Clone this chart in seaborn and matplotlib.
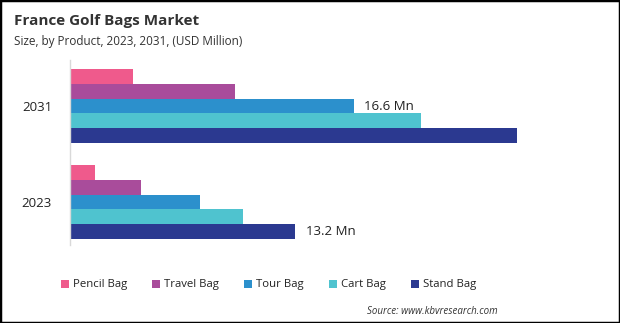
import matplotlib
matplotlib.use("Agg")
import matplotlib.pyplot as plt
import seaborn as sns
import pandas as pd
from matplotlib.patches import Patch, Rectangle

years = ["2031", "2023"]
products = ["Pencil Bag", "Travel Bag", "Tour Bag", "Cart Bag", "Stand Bag"]
values_2031 = [3.67, 9.66, 16.6, 20.55, 26.15]
values_2023 = [1.46, 4.16, 7.61, 10.13, 13.2]
colors = ["#EF5A8C", "#A94C9B", "#2C90CC", "#4FC3CF", "#2B3990"]
labels = {("2031", "Tour Bag"): "16.6 Mn", ("2023", "Stand Bag"): "13.2 Mn"}

rows = []
for y, vals in zip(years, [values_2031, values_2023]):
    for p, v in zip(products, vals):
        rows.append({"Year": y, "Product": p, "Value": v})
df = pd.DataFrame(rows)

sns.set_theme(style="white")
plt.rcParams["font.family"] = ["Open Sans", "DejaVu Sans"]

fig = plt.figure(figsize=(6.2, 3.23), dpi=100)
W, H = 620, 323
ax = fig.add_axes([70 / W, 1 - 245 / H, 520 / W, 185 / H])

sns.barplot(data=df, y="Year", x="Value", hue="Product", order=years,
            hue_order=products, palette=colors, orient="h", width=0.77,
            saturation=1, ax=ax, legend=False, errorbar=None, linewidth=0,
            edgecolor="none")

ax.set_xlim(0, 520 / 17.08)
ax.set_ylim(1 + 43 / 96, -46 / 96)
ax.set_xlabel("")
ax.set_ylabel("")
ax.set_xticks([])
for s in ["top", "right", "bottom"]:
    ax.spines[s].set_visible(False)
ax.spines["left"].set_color("#d9d9d9")
ax.spines["left"].set_linewidth(1)
ax.tick_params(axis="y", length=0, labelsize=9.5, pad=13, labelcolor="#222222")

# value labels
for container, prod in zip(ax.containers, products):
    for bar, yr in zip(container, years):
        key = (yr, prod)
        if key in labels:
            ax.text(bar.get_width() + 0.62, bar.get_y() + bar.get_height() / 2,
                    labels[key], va="center", ha="left", fontsize=9.5, color="#222222")

fig.text(14 / W, 1 - 21 / H, "France Golf Bags Market", fontsize=11,
         fontweight="bold", color="#333333", va="center", ha="left")
fig.text(14 / W, 1 - 41 / H, "Size, by Product, 2023, 2031, (USD Million)",
         fontsize=8.5, color="#333333", va="center", ha="left")

handles = [Patch(facecolor=c, edgecolor="none", label=p) for c, p in zip(colors, products)]
fig.legend(handles=handles, loc="center", bbox_to_anchor=(268.5 / W, 1 - 285 / H), ncol=5,
           frameon=False, fontsize=8.2, handlelength=0.7, handleheight=0.7,
           handletextpad=0.35, columnspacing=2.2, labelcolor="#222222")

fig.text(498 / W, 1 - 311 / H, "Source: www.kbvresearch.com", fontsize=7,
         style="italic", color="#333333", ha="right", va="center")

fig.patches.append(Rectangle((0, 0), 1, 1, transform=fig.transFigure, fill=False,
                             edgecolor="black", linewidth=2.5))

fig.savefig("out.png", dpi=100)
